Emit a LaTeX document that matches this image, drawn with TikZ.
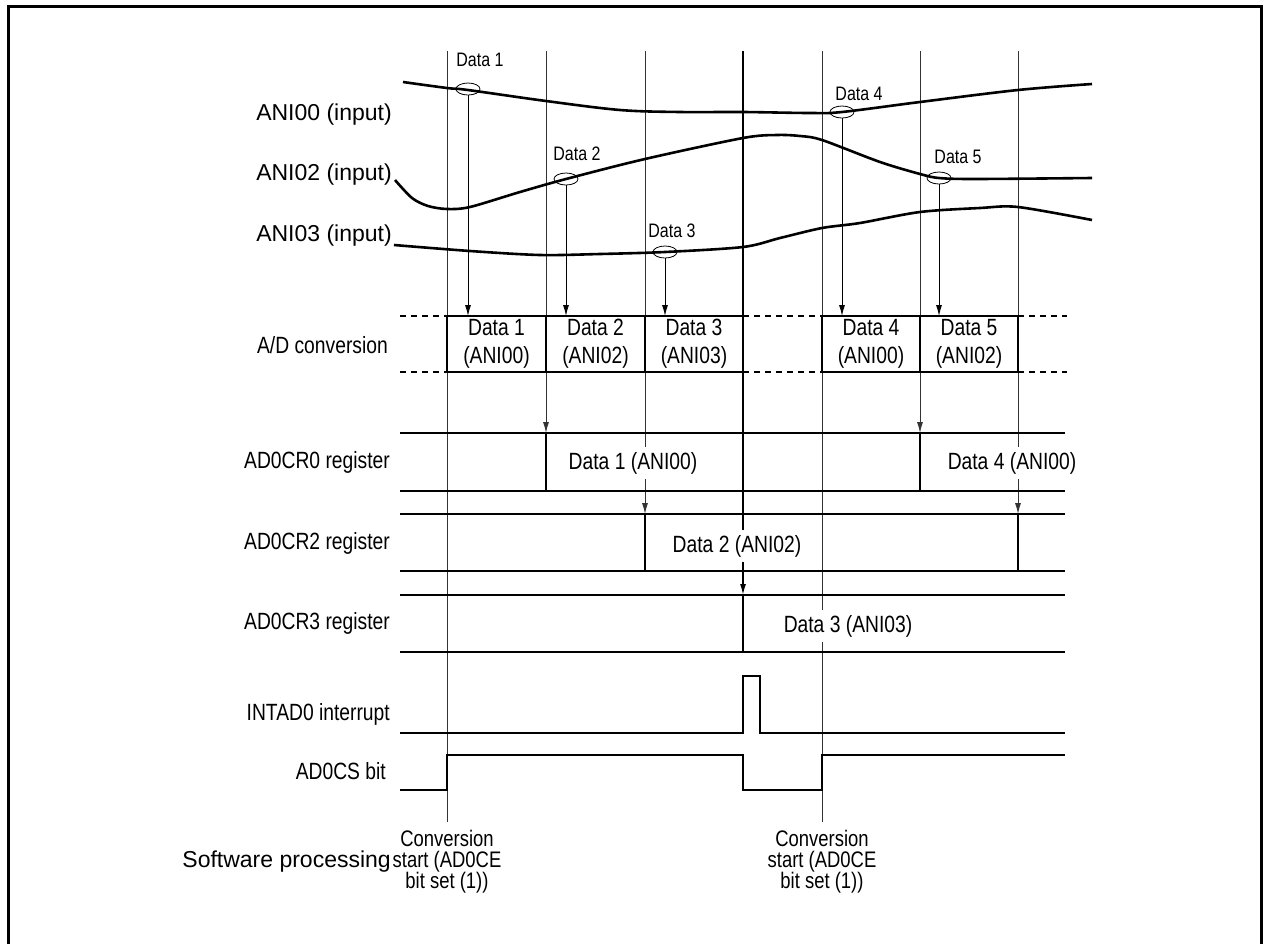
\documentclass[tikz,border=0pt]{standalone}
\usepackage{fontspec}
\setmainfont{Liberation Sans}[FakeStretch=0.82]
\newfontfamily\widefont{Liberation Sans}
\usetikzlibrary{arrows.meta,shapes.geometric}
\begin{document}
\begin{tikzpicture}[x=1pt,y=-1pt,
  sig/.style={line width=2.6pt,line join=miter},
  vln/.style={line width=0.9pt,black!80},
  arr/.style={-{Latex[length=11pt,width=6pt]},line width=0.9pt},
  lbl/.style={anchor=east,inner sep=0pt,font=\fontsize{23.5}{26}\selectfont},
  wlbl/.style={anchor=east,inner sep=0pt,font=\widefont\fontsize{23}{26}\selectfont},
  dlab/.style={inner sep=0pt,font=\fontsize{19.5}{22}\selectfont},
  boxt/.style={align=center,inner sep=0pt,font=\fontsize{23.5}{28}\selectfont},
  regt/.style={fill=white,inner xsep=3pt,inner ysep=5pt,font=\fontsize{23.5}{26}\selectfont},
  smp/.style={draw,ellipse,line width=0.8pt,minimum width=24pt,minimum height=12pt,inner sep=0pt},
  swt/.style={align=center,inner sep=0pt,font=\fontsize{22.5}{21}\selectfont}]
\useasboundingbox (0,0) rectangle (1263,943);
% frame
\draw[line width=3pt] (8,950) -- (8,6) -- (1261,6) -- (1261,950);
% level coordinates
\coordinate (adtop) at (0,316);
\coordinate (adbot) at (0,372);
\coordinate (r0t) at (0,433); \coordinate (r0b) at (0,491);
\coordinate (r2t) at (0,514); \coordinate (r2b) at (0,571);
\coordinate (r3t) at (0,595); \coordinate (r3b) at (0,652);
% vertical timing lines
\coordinate (t1) at (447,51); \coordinate (t2) at (546,51);
\coordinate (t3) at (645,51); \coordinate (t4) at (743,51);
\coordinate (t5) at (822,51); \coordinate (t6) at (920,51);
\coordinate (t7) at (1018,51);
\draw[vln] (t1) -- ++(0,771);
\draw[vln] (t5) -- ++(0,771);
\draw[vln,arr] (t2) -- (t2 |- r0t);
\draw[vln,arr] (t6) -- (t6 |- r0t);
\draw[vln,arr] (t3) -- (t3 |- r2t);
\draw[vln,arr] (t7) -- (t7 |- r2t);
\draw[arr,line width=1.5pt,black] (t4) -- (t4 |- r3t);
% analog inputs
\draw[sig] plot[smooth,tension=0.55] coordinates {(403,82) (447,88) (468,90) (546,101) (620,110) (680,112) (743,112) (810,113) (842,112) (920,102) (1018,90) (1092,84)};
\draw[sig] plot[smooth,tension=0.5] coordinates {(395,180) (412,198) (428,206) (447,209) (470,207) (520,192) (566,179) (645,159) (743,138) (777,135) (800,136) (822,140) (880,162) (920,174) (939,178) (975,179) (1092,178)};
\draw[sig] plot[smooth,tension=0.5] coordinates {(394,245) (470,251) (540,255) (600,254) (665,252) (743,247) (780,238) (822,228) (860,223) (920,212) (980,208) (1018,207) (1092,220)};
% sample points
\node[smp] (e1) at (468,89) {};
\node[smp] (e2) at (566,179) {};
\node[smp] (e3) at (665,252) {};
\node[smp] (e4) at (842,112) {};
\node[smp] (e5) at (939,178) {};
\node[dlab] (d1) at (480,60) {Data 1};
\node[dlab] (d2) at (577,154) {Data 2};
\node[dlab] (d3) at (672,231) {Data 3};
\node[dlab] (d4) at (859,94) {Data 4};
\node[dlab] (d5) at (958,157) {Data 5};
\foreach \e in {e1,e2,e3,e4,e5} \draw[arr] (\e.south) -- (\e.south |- adtop);
% A/D conversion
\draw[sig] (447,316) rectangle (743,372);
\draw[sig] (546,316) -- (546,372) (645,316) -- (645,372);
\draw[sig] (822,316) rectangle (1018,372);
\draw[sig] (920,316) -- (920,372);
\draw[line width=2.4pt,dash pattern=on 6pt off 5pt] (400,316) -- (447,316) (400,372) -- (447,372)
  (743,316) -- (822,316) (743,372) -- (822,372) (1018,316) -- (1067,316) (1018,372) -- (1067,372);
\node[boxt] (b1) at (496.5,344) {Data 1\\(ANI00)};
\node[boxt] (b2) at (595.5,344) {Data 2\\(ANI02)};
\node[boxt] (b3) at (694,344) {Data 3\\(ANI03)};
\node[boxt] (b4) at (871,344) {Data 4\\(ANI00)};
\node[boxt] (b5) at (969,344) {Data 5\\(ANI02)};
% registers
\draw[sig] (400,433) -- (1065,433) (400,491) -- (1065,491) (546,433) -- (546,491) (920,433) -- (920,491);
\draw[sig] (400,514) -- (1065,514) (400,571) -- (1065,571) (645,514) -- (645,571) (1018,514) -- (1018,571);
\draw[sig] (400,595) -- (1065,595) (400,652) -- (1065,652) (743,595) -- (743,652);
\node[regt] (v1) at (633,463) {Data 1 (ANI00)};
\node[regt] (v4) at (1012,463) {Data 4 (ANI00)};
\node[regt] (v2) at (737,546) {Data 2 (ANI02)};
\node[regt] (v3) at (848,626) {Data 3 (ANI03)};
% interrupt and AD0CS
\draw[sig] (400,733) -- (743,733) -- (743,676) -- (760,676) -- (760,733) -- (1065,733);
\draw[sig] (400,790) -- (447,790) -- (447,755) -- (743,755) -- (743,790) -- (822,790) -- (822,755) -- (1065,755);
% left labels
\node[wlbl] (l1) at (392,115) {ANI00 (input)};
\node[wlbl] (l2) at (392,175) {ANI02 (input)};
\node[wlbl] (l3) at (392,236) {ANI03 (input)};
\node[lbl] (l4) at (388,345) {A/D conversion};
\node[lbl] (l5) at (390,462) {AD0CR0 register};
\node[lbl] (l6) at (390,543) {AD0CR2 register};
\node[lbl] (l7) at (390,623) {AD0CR3 register};
\node[lbl] (l8) at (390,714) {INTAD0 interrupt};
\node[lbl] (l9) at (386,771) {AD0CS bit};
\node[wlbl] (l10) at (391,862) {Software processing};
\node[swt] (s1) at (447,862) {Conversion\\start (AD0CE\\bit set (1))};
\node[swt] (s2) at (822,862) {Conversion\\start (AD0CE\\bit set (1))};
\end{tikzpicture}
\end{document}
